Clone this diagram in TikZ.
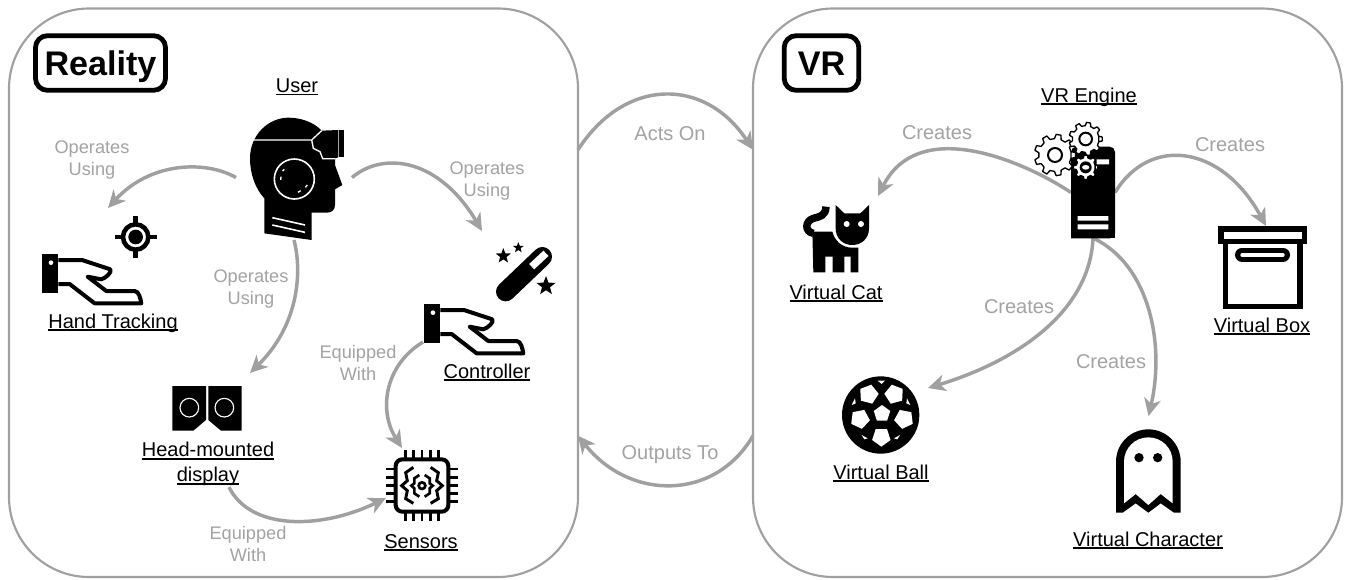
\documentclass[tikz,border=0pt]{standalone}
\usepackage{fontspec}
\setmainfont{Liberation Sans}
\usetikzlibrary{arrows.meta,fit}
\definecolor{linegrey}{HTML}{A0A0A0}
\definecolor{textgrey}{HTML}{A3A3A3}
\newcommand{\ulb}[1]{\setbox0=\hbox{#1}\rlap{\copy0}\rule[-2.2pt]{\wd0}{1.1pt}}
\newcommand{\iconbox}[5]{\node[fit={(#2,#3)(#4,#5)},inner sep=0pt,outer sep=0pt] (#1) {};}
\newcommand{\starat}[3]{\fill[shift={(#1,#2)}] (270:#3) -- (306:0.42*#3) -- (342:#3) -- (18:0.42*#3) -- (54:#3) -- (90:0.42*#3) -- (126:#3) -- (162:0.42*#3) -- (198:#3) -- (234:0.42*#3) -- cycle;}
\newcommand{\pentagon}[4]{\fill[white,shift={(#1,#2)},rotate=#4] (270:#3) -- (342:#3) -- (54:#3) -- (126:#3) -- (198:#3) -- cycle;}
\newcommand{\gearshape}[5]{\pgfmathsetmacro{\gs}{360/#5}
 \draw[fill=white,draw=black,line width=1pt,line join=round,shift={(#1,#2)}] (-0.3*\gs:#4)
 \foreach \k in {0,...,#5}{ -- (\k*\gs-0.3*\gs:#4) -- (\k*\gs-0.17*\gs:#3) -- (\k*\gs+0.17*\gs:#3) -- (\k*\gs+0.3*\gs:#4) } -- cycle;}
\newcommand{\handicon}[2]{\begin{scope}[shift={(#1,#2)},x=.25pt,y=-.25pt]
 \fill (0,0) rectangle (48,116);
 \fill[white] (26,26) circle (7);
 \draw[line width=3pt,line join=round] (48,18) -- (119,18) -- (204,46) .. controls (210,55) and (190,72) .. (177,76) -- (136,68) -- (192,111) -- (277,111) .. controls (290,111) and (295,135) .. (297,148) -- (157,148) -- (82,90) -- (48,90);
\end{scope}}
\tikzset{
 panel/.style={draw=linegrey,line width=1.6pt,rounded corners=60pt,fill=white},
 titlebox/.style={draw=black,line width=3.6pt,rounded corners=9pt,font=\fontsize{25.6}{30}\bfseries\selectfont,text height=18.4pt,text depth=0pt,inner sep=0pt},
 lab/.style={anchor=base,inner sep=0pt,font=\fontsize{15}{18.75}\selectfont},
 lablines/.style={align=center,inner sep=0pt,font=\fontsize{15}{18.75}\selectfont},
 note/.style={align=center,inner sep=0pt,text=textgrey,font=\fontsize{13.65}{16.5}\selectfont},
 bignote/.style={inner sep=0pt,text=textgrey,font=\fontsize{15}{18}\selectfont},
 conn/.style={draw=linegrey,line width=2.6pt,-{Stealth[length=13pt,width=12.5pt,inset=3.8pt]}},
 zoomA/.style={x=.25pt,y=-.25pt},
}
\begin{document}
\begin{tikzpicture}[x=.75pt,y=-.75pt]
\useasboundingbox (0,0) rectangle (1351,579);
\fill[white] (0,0) rectangle (1351,579);
% panels
\node[panel,fit={(9,8.5)(578,577)},inner sep=0pt,outer sep=0pt] (reality) {};
\node[panel,fit={(753,8.5)(1342,577)},inner sep=0pt,outer sep=0pt] (vr) {};
\node[titlebox,minimum width=97.5pt,minimum height=41pt] (titleR) at (100.5,63) {Reality};
\node[titlebox,minimum width=56pt,minimum height=41pt] (titleV) at (821.5,63) {VR};
% icon anchors
\iconbox{user}{236}{115}{352}{240}
\iconbox{ht}{42}{208}{157}{303}
\iconbox{hmd}{172}{373}{250}{431}
\iconbox{ctrl}{423}{231}{556}{353}
\iconbox{sensors}{386}{448}{458}{521}
\iconbox{server}{1071}{147}{1115}{238}
\iconbox{cat}{803}{196}{878}{272}
\iconbox{box}{1218}{226}{1307}{309}
\iconbox{ball}{843}{388}{928}{451}
\iconbox{ghost}{1116}{416}{1181}{513}
% labels
\node[lab] (userL) at (297,92.5) {\ulb{User}};
\node[lab] (htL) at (113,328) {\ulb{Hand Tracking}};
\node[lab] (ctrlL) at (487,378) {\ulb{Controller}};
\node[lab] (sensL) at (421,548) {\ulb{Sensors}};
\node[lablines] (hmdL) at (208,464) {\ulb{Head-mounted}\\\ulb{display}};
\node[lab] (engL) at (1089,102) {\ulb{VR Engine}};
\node[lab] (catL) at (836,299) {\ulb{Virtual Cat}};
\node[lab] (ballL) at (881,479) {\ulb{Virtual Ball}};
\node[lab] (charL) at (1148,546) {\ulb{Virtual Character}};
\node[lab] (boxL) at (1262,332) {\ulb{Virtual Box}};
% edge labels
\node[note] (e1) at (92,160) {Operates\\Using};
\node[note] (e2) at (251,289) {Operates\\Using};
\node[note] (e3) at (487,181) {Operates\\Using};
\node[note] (e4) at (358,363) {Equipped\\With};
\node[note] (e5) at (248,544) {Equipped\\With};
\node[bignote] (e6) at (937,133) {Creates};
\node[bignote] (e7) at (1230,145) {Creates};
\node[bignote] (e8) at (1019,307) {Creates};
\node[bignote] (e9) at (1111,362) {Creates};
\node[bignote] (e10) at (670,134) {Acts On};
\node[bignote] (e11) at (670,455) {Outputs To};
% connectors
\draw[conn] (user.west) .. controls (205,160) and (150,162) .. ([shift={(8.5,0)}]ht.north);
\draw[conn] (user.east) .. controls (385,150) and (440,160) .. ([shift={(-7.5,0)}]ctrl.north);
\draw[conn] (user.south) .. controls (303,275) and (297,327) .. (hmd.north east);
\draw[conn] ([shift={(0,50)}]ctrl.west) .. controls (385,365) and (378,410) .. ([shift={(-20,0)}]sensors.north);
\draw[conn] ([shift={(21,1)}]hmdL.south) .. controls (250,530) and (320,530) .. ([shift={(0,13.5)}]sensors.west);
\draw[conn] ([shift={(0,-143)}]reality.east) .. controls (625,77) and (705,77) .. ([shift={(0,-143)}]vr.west);
\draw[conn] ([shift={(0,143)}]vr.west) .. controls (715,501) and (630,501) .. ([shift={(0,143)}]reality.east);
\draw[conn] (server.west) .. controls (1030,165) and (920,113) .. (cat.north east);
\draw[conn] (server.east) .. controls (1150,135) and (1222,145) .. ([shift={(3.5,0)}]box.north);
\draw[conn] (server.south) .. controls (1090,310) and (1020,360) .. (ball.north east);
\draw[conn] (server.south) .. controls (1150,265) and (1165,345) .. (ghost.north);
% user head
\begin{scope}[shift={(20,70)},zoomA]
 \fill (733,490) -- (733,385) .. controls (705,355) and (690,310) .. (690,265) .. controls (690,195) and (745,143) .. (805,143) .. controls (840,143) and (880,155) .. (905,182) -- (955,180) -- (955,262) -- (945,265) -- (945,285) -- (967,345) -- (945,358) -- (945,405) .. controls (945,420) and (935,428) .. (920,428) -- (875,428) -- (875,510) -- cycle;
 \fill (958,180) rectangle (972,262);
 \draw[white,line width=1pt] (700,210) -- (875,210) -- (905,182);
 \draw[white,line width=1pt] (875,210) -- (880,235) -- (900,245) -- (908,266) -- (946,266);
 \draw[white,line width=1.2pt] (823,327) circle (60);
 \draw[white,line width=1pt] (793,298) -- (788,303) (783,320) -- (782,330) (862,345) -- (856,352) (842,362) -- (834,367);
 \draw[white,line width=1.2pt] (757,443) -- (855,465) (757,465) -- (855,487);
 % target
 \draw[line width=3.4pt] (347,501) circle (38);
 \fill (347,501) circle (22);
 \draw[line width=3.4pt] (347,438) -- (347,463) (347,539) -- (347,564) (285,501) -- (309,501) (385,501) -- (410,501);
\end{scope}
\handicon{42.3}{254}
\handicon{424.3}{304}
% wand, HMD, sensors
\begin{scope}[shift={(140,230)},zoomA]
 \draw[line width=14.5pt,line cap=round] (1097,185) -- (1207,80);
 \draw[white,line width=5.5pt] (1175,110) -- (1218,70);
 \starat{1090}{78}{24}
 \starat{1135}{53}{17}
 \starat{1218}{168}{30}
 \fill (97,468) -- (198,468) -- (198,570) -- (160,602) -- (97,602) -- cycle;
 \fill (205,468) -- (305,468) -- (305,602) -- (243,602) -- (205,570) -- cycle;
 \draw[white,line width=.85pt] (148,533) circle (28) (253,533) circle (28);
 \draw[line width=3pt,rounded corners=5pt] (767,688) rectangle (925,845);
 \foreach \p in {-49,-24.5,0,24.5,49}{
  \draw[line width=2.2pt] (846+\p,660) -- (846+\p,688) (846+\p,845) -- (846+\p,872) (738,766+\p) -- (767,766+\p) (925,766+\p) -- (953,766+\p);
 }
 \draw[line width=2pt] (846,767) circle (10);
 \draw[line width=2.2pt] (820,712) -- (797,728) -- (802,752) -- (785,767) -- (802,782) -- (797,806) -- (820,820);
 \draw[line width=2.2pt] (872,712) -- (895,728) -- (890,752) -- (907,767) -- (890,782) -- (895,806) -- (872,820);
 \draw[line width=2pt] (838,735) -- (823,745) -- (823,760) -- (814,767) -- (823,775) -- (823,790) -- (838,800);
 \draw[line width=2pt] (854,735) -- (869,745) -- (869,760) -- (878,767) -- (869,775) -- (869,790) -- (854,800);
\end{scope}
% server and gears
\begin{scope}[shift={(780,110)},zoomA]
 \fill[rounded corners=4pt] (873,385) -- (873,110) -- (1005,110) -- (1005,385) [sharp corners] -- cycle;
 \fill (873,370) rectangle (1005,385);
 \fill[white] (893,318) rectangle (985,332) (893,343) rectangle (985,358) (950,148) rectangle (987,163);
 \gearshape{825}{135}{62}{49}{9}
 \draw[line width=1.5pt] (825,135) circle (21);
 \gearshape{917}{87}{50}{40}{9}
 \draw[line width=1.5pt] (917,87) circle (19);
 \gearshape{917}{172}{37}{29}{8}
 \fill (917,172) circle (18);
 \fill[white] (917,172) ellipse (11 and 7);
\end{scope}
% cat
\begin{scope}[shift={(795,195)},zoomA]
 \draw[line width=5.6pt] (93,35) .. controls (92,62) and (75,65) .. (55,70) .. controls (30,78) and (28,110) .. (55,115);
 \fill (52,110) -- (112,110) .. controls (118,135) and (140,158) .. (170,158) -- (190,158) -- (190,232) -- (167,232) -- (167,185) -- (148,185) -- (148,232) -- (113,232) -- (113,185) -- (91,185) -- (91,232) -- (55,232) -- cycle;
 \fill (122,30) -- (148,55) -- (196,55) -- (222,30) -- (222,100) .. controls (222,130) and (200,150) .. (172,150) .. controls (144,150) and (122,130) .. (122,100) -- cycle;
 \fill[white] (155,87) circle (9) (198,87) circle (9);
\end{scope}
% ball
\begin{scope}[shift={(835,370)},zoomA]
 \fill (137,135) circle (116);
 \pentagon{141}{131}{26}{0}
 \pentagon{101}{73}{30}{-15}
 \pentagon{178}{73}{30}{15}
 \pentagon{75}{147}{30}{-25}
 \pentagon{207}{147}{30}{25}
 \pentagon{139}{201}{29}{180}
 \fill[white] (128,32) -- (150,32) -- (140,42) -- cycle;
 \fill[white] (50,105) -- (60,85) -- (62,100) -- cycle;
 \fill[white] (226,105) -- (216,85) -- (214,100) -- cycle;
 \fill[white] (80,195) -- (98,205) -- (88,208) -- cycle;
 \fill[white] (195,195) -- (177,205) -- (187,208) -- cycle;
\end{scope}
% ghost
\begin{scope}[shift={(820,210)},zoomA]
 \fill (888,908) -- (888,755) arc[start angle=180,delta angle=180,radius=97] -- (1082,908) -- (1062,908) -- (1022,880) -- (985,908) -- (947,880) -- (908,908) -- cycle;
 \fill[white] (912,880) -- (912,755) arc[start angle=180,delta angle=180,radius=73] -- (1058,880) -- (1022,852) -- (985,885) -- (947,852) -- cycle;
 \fill (957,743) circle (14) (1013,743) circle (14);
\end{scope}
% box
\begin{scope}[shift={(1040,110)},zoomA]
 \fill (535,348) rectangle (800,403);
 \fill[white] (552,365) rectangle (785,388);
 \fill (548,403) rectangle (788,598);
 \fill[white] (565,403) rectangle (772,583);
 \draw[line width=10.5pt,line cap=round] (606,434) -- (729,434);
 \draw[white,line width=2.5pt,line cap=round] (606,435) -- (729,435);
\end{scope}
\end{tikzpicture}
\end{document}
